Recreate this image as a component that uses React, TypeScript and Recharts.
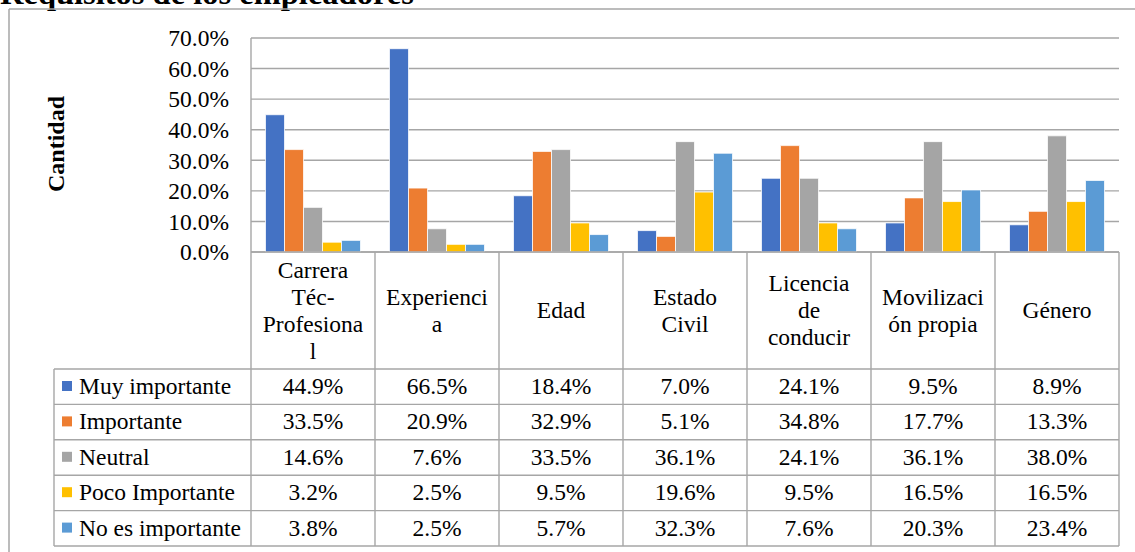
import { Bar, BarChart, CartesianGrid, XAxis, YAxis } from 'recharts'

const CATEGORIES = ['Carrera Téc-Profesional', 'Experiencia', 'Edad', 'Estado Civil', 'Licencia de conducir', 'Movilización propia', 'Género']
// wrapped the way the original table header shows them
const CATEGORY_LINES = [
  ['Carrera', 'Téc-', 'Profesiona', 'l'],
  ['Experienci', 'a'],
  ['Edad'],
  ['Estado', 'Civil'],
  ['Licencia', 'de', 'conducir'],
  ['Movilizaci', 'ón propia'],
  ['Género'],
]

const SERIES_NAMES = ['Muy importante', 'Importante', 'Neutral', 'Poco Importante', 'No es importante']
const SERIES_COLORS = ['#4472C4', '#ED7D31', '#A5A5A5', '#FFC000', '#5B9BD5']

const MUY_IMPORTANTE = [44.9, 66.5, 18.4, 7.0, 24.1, 9.5, 8.9]
const IMPORTANTE = [33.5, 20.9, 32.9, 5.1, 34.8, 17.7, 13.3]
const NEUTRAL = [14.6, 7.6, 33.5, 36.1, 24.1, 36.1, 38.0]
const POCO_IMPORTANTE = [3.2, 2.5, 9.5, 19.6, 9.5, 16.5, 16.5]
const NO_ES_IMPORTANTE = [3.8, 2.5, 5.7, 32.3, 7.6, 20.3, 23.4]

const Y_TICKS = [0, 10, 20, 30, 40, 50, 60, 70]

const SERIES_VALUES = [MUY_IMPORTANTE, IMPORTANTE, NEUTRAL, POCO_IMPORTANTE, NO_ES_IMPORTANTE]
const KEYS = ['s0', 's1', 's2', 's3', 's4']

const data = CATEGORIES.map((cat, i) => {
  const row: Record<string, string | number> = { cat }
  SERIES_VALUES.forEach((vals, s) => {
    row[KEYS[s]] = vals[i]
  })
  return row
})

// layout
const W = 1135
const H = 552
const PLOT_LEFT = 251
const PLOT_RIGHT = 1119
const PLOT_TOP = 38
const PLOT_BOTTOM = 252
const HEADER_BOTTOM = 369
const TABLE_BOTTOM = 546
const ROW_H = (TABLE_BOTTOM - HEADER_BOTTOM) / SERIES_NAMES.length
const COL_W = (PLOT_RIGHT - PLOT_LEFT) / CATEGORIES.length
const LEGEND_LEFT = 54
const LINE_COLOR = '#a6a6a6'
const LINE_W = 1.4
const FONT = '"Liberation Serif", "Times New Roman", serif'
const FS = 23.5

function ColumnTick(props: any) {
  const { x, index } = props
  const lines = CATEGORY_LINES[index] ?? []
  const half = COL_W / 2
  const firstBase = 318 - ((lines.length - 1) * 27) / 2
  return (
    <g>
      <line x1={x - half} x2={x - half} y1={PLOT_BOTTOM} y2={TABLE_BOTTOM} stroke={LINE_COLOR} strokeWidth={LINE_W} />
      {index === CATEGORIES.length - 1 && (
        <line x1={x + half} x2={x + half} y1={PLOT_BOTTOM} y2={TABLE_BOTTOM} stroke={LINE_COLOR} strokeWidth={LINE_W} />
      )}
      {lines.map((l, k) => (
        <text key={k} x={x} y={firstBase + k * 27} textAnchor="middle" fontFamily={FONT} fontSize={FS} fill="#000">
          {l}
        </text>
      ))}
      {SERIES_VALUES.map((vals, s) => (
        <text key={s} x={x} y={HEADER_BOTTOM + s * ROW_H + 25} textAnchor="middle" fontFamily={FONT} fontSize={FS} fill="#000">
          {vals[index].toFixed(1)}%
        </text>
      ))}
    </g>
  )
}

export default function App() {
  return (
    <div style={{ position: 'absolute', left: 0, top: 0, width: W, height: H, background: '#fff' }}>
      <BarChart
        width={W}
        height={H}
        data={data}
        margin={{ top: PLOT_TOP, right: W - PLOT_RIGHT, bottom: 0, left: 0 }}
        barCategoryGap={14.5}
        barGap={0}
      >
        <CartesianGrid vertical={false} stroke={LINE_COLOR} strokeWidth={LINE_W} />
        <YAxis
          width={PLOT_LEFT}
          domain={[0, 70]}
          ticks={Y_TICKS}
          tickFormatter={(v: number) => `${v.toFixed(1)}%`}
          tick={{ fontSize: FS, fontFamily: FONT, fill: '#000' }}
          tickLine={false}
          tickSize={0}
          tickMargin={22}
          axisLine={{ stroke: LINE_COLOR, strokeWidth: LINE_W }}
          interval={0}
        />
        <XAxis
          dataKey="cat"
          height={H - PLOT_BOTTOM}
          tickLine={false}
          tickSize={0}
          tickMargin={0}
          axisLine={{ stroke: LINE_COLOR, strokeWidth: LINE_W }}
          interval={0}
          tick={<ColumnTick />}
        />
        {KEYS.map((k, s) => (
          <Bar key={k} dataKey={k} name={SERIES_NAMES[s]} fill={SERIES_COLORS[s]} stroke="#fff" strokeWidth={0.75} isAnimationActive={false} />
        ))}
      </BarChart>
      <svg width={W} height={H} style={{ position: 'absolute', left: 0, top: 0, pointerEvents: 'none' }}>
        <text x={0} y={4} fontFamily={FONT} fontSize={32.5} fontWeight="bold" fill="#000">
          Requisitos de los empleadores
        </text>
        <line x1={9} x2={W} y1={9} y2={9} stroke={LINE_COLOR} strokeWidth={1.5} />
        <line x1={9} x2={9} y1={9} y2={H} stroke={LINE_COLOR} strokeWidth={1.5} />
        <text
          x={0}
          y={0}
          transform="translate(64,144) rotate(-90)"
          textAnchor="middle"
          fontFamily={FONT}
          fontSize={24}
          fontWeight="bold"
          fill="#000"
        >
          Cantidad
        </text>
        <line x1={LEGEND_LEFT} x2={LEGEND_LEFT} y1={HEADER_BOTTOM} y2={TABLE_BOTTOM} stroke={LINE_COLOR} strokeWidth={LINE_W} />
        {Array.from({ length: SERIES_NAMES.length + 1 }).map((_, k) => (
          <line
            key={k}
            x1={LEGEND_LEFT}
            x2={PLOT_RIGHT}
            y1={HEADER_BOTTOM + k * ROW_H}
            y2={HEADER_BOTTOM + k * ROW_H}
            stroke={LINE_COLOR}
            strokeWidth={LINE_W}
          />
        ))}
        {SERIES_NAMES.map((name, s) => (
          <g key={name}>
            <rect x={62} y={HEADER_BOTTOM + s * ROW_H + 12} width={10} height={10} fill={SERIES_COLORS[s]} />
            <text x={79} y={HEADER_BOTTOM + s * ROW_H + 25} fontFamily={FONT} fontSize={FS} fill="#000">
              {name}
            </text>
          </g>
        ))}
      </svg>
    </div>
  )
}
